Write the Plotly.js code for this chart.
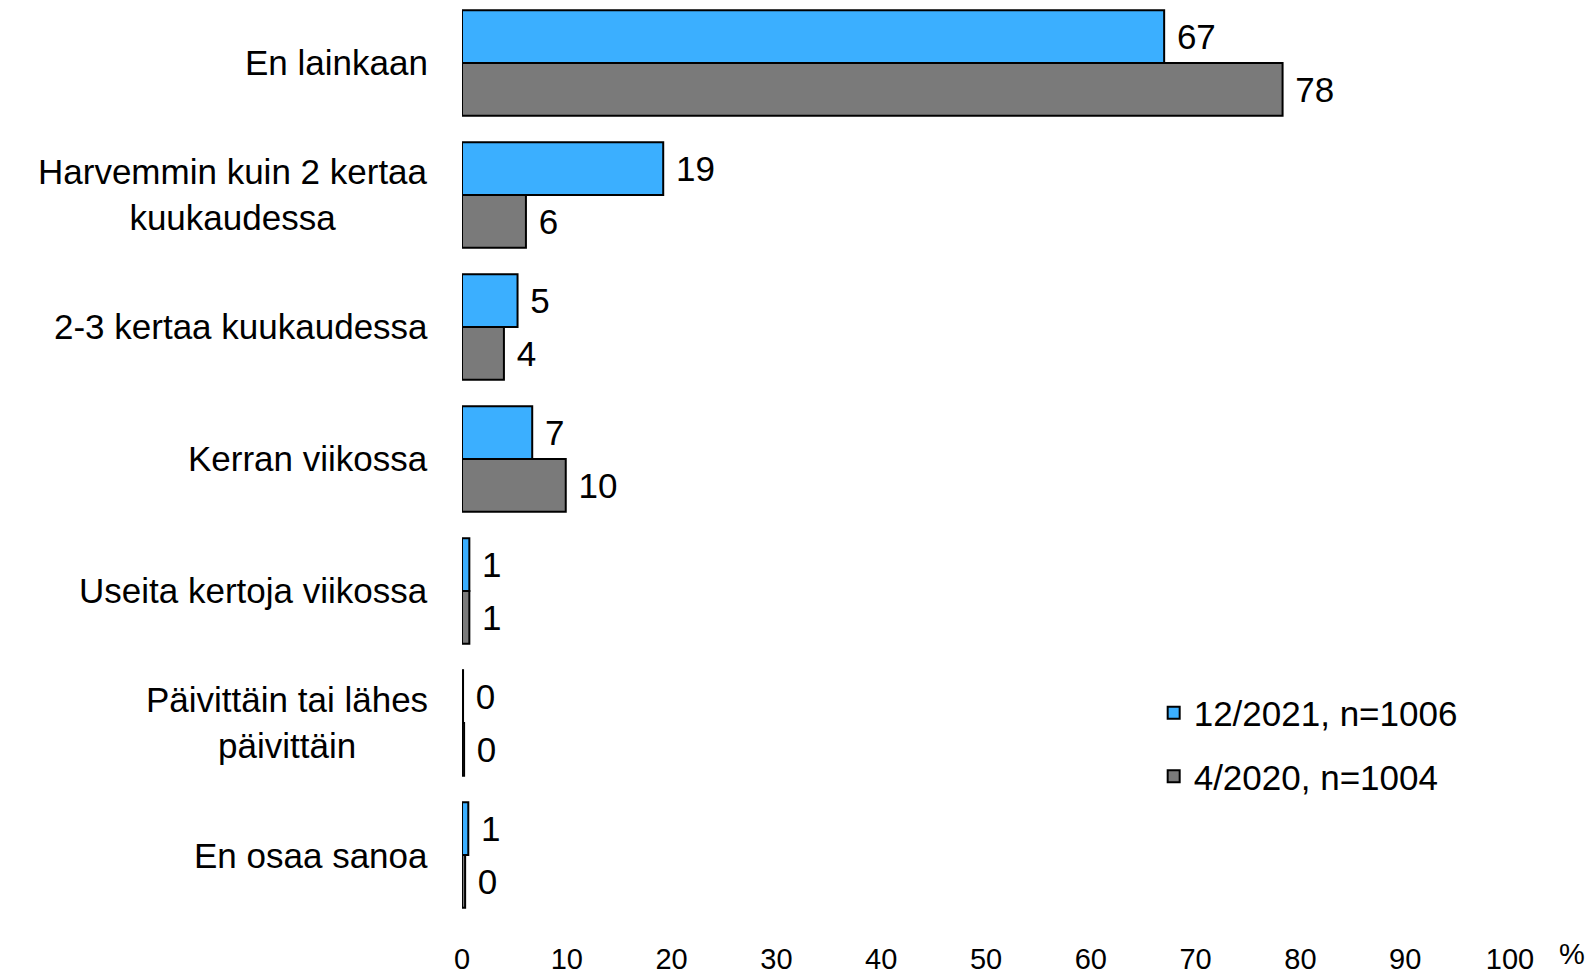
<!DOCTYPE html>
<html>
<head>
<meta charset="utf-8">
<script src="https://cdn.plot.ly/plotly-3.0.1.min.js"></script>
<style>html,body{margin:0;padding:0;background:#fff;}#chart{width:1591px;height:975px;}</style>
</head>
<body>
<div id="chart"></div>
<script>
// Categories (top to bottom)
const categories = [
  "En lainkaan",
  "Harvemmin kuin 2 kertaa<br>kuukaudessa",
  "2-3 kertaa kuukaudessa",
  "Kerran viikossa",
  "Useita kertoja viikossa",
  "Päivittäin tai lähes<br>päivittäin",
  "En osaa sanoa"
];
const seriesNames = ["12/2021, n=1006", "4/2020, n=1004"];
const values2021 = [67.0, 19.2, 5.3, 6.7, 0.7, 0.1, 0.6];
const values2020 = [78.3, 6.1, 4.0, 9.9, 0.7, 0.2, 0.3];
const xTicks = [0, 10, 20, 30, 40, 50, 60, 70, 80, 90, 100];

const FONT = "Liberation Sans, Arial, sans-serif";
const colors = ["#3BAFFF", "#7A7A7A"];

function barTrace(name, vals, color, group) {
  return {
    type: "bar",
    orientation: "h",
    name: name,
    x: vals,
    y: categories,
    legendgroup: group,
    marker: { color: color, line: { color: "#000", width: 2 } },
    texttemplate: "\u00a0%{x:.0f}",
    textposition: "outside",
    cliponaxis: false,
    textfont: { family: FONT, size: 35, color: "#000" },
    hoverinfo: "skip"
  };
}

const data = [
  barTrace(seriesNames[0], values2021, colors[0], "g1"),
  barTrace(seriesNames[1], values2020, colors[1], "g2")
];

const annotations = categories.map(c => ({
  x: 0, xref: "x", y: c, yref: "y",
  text: c, showarrow: false,
  xanchor: "right", yanchor: "middle", align: "center",
  xshift: -32,
  font: { family: FONT, size: 35, color: "#000" }
}));
annotations.push({
  x: 1, xref: "paper", y: 0, yref: "paper",
  text: "%", showarrow: false, xanchor: "left", yanchor: "top",
  xshift: 47, yshift: -15,
  font: { family: FONT, size: 29, color: "#000" }
});

const layout = {
  width: 1591, height: 975,
  margin: { l: 462, r: 81, t: 0, b: 54 },
  paper_bgcolor: "#fff", plot_bgcolor: "#fff",
  barmode: "group", bargap: 0.2, bargroupgap: 0,
  showlegend: true,
  legend: {
    x: 0.66, y: 0.258, xanchor: "left", yanchor: "top",
    traceorder: "grouped", tracegroupgap: 15,
    font: { family: FONT, size: 35, color: "#000" },
    bgcolor: "rgba(0,0,0,0)"
  },
  xaxis: {
    range: [0, 100], tickvals: xTicks, ticktext: xTicks.map(String),
    showgrid: false, zeroline: false, showline: false, ticks: "",
    ticklabelstandoff: 18,
    tickfont: { family: FONT, size: 29, color: "#000" },
    fixedrange: true
  },
  yaxis: {
    range: [6.5, -0.477], showticklabels: false, showgrid: false,
    zeroline: false, showline: false, ticks: "", fixedrange: true
  },
  annotations: annotations
};

Plotly.newPlot("chart", data, layout, { displayModeBar: false, staticPlot: true });
</script>
</body>
</html>
